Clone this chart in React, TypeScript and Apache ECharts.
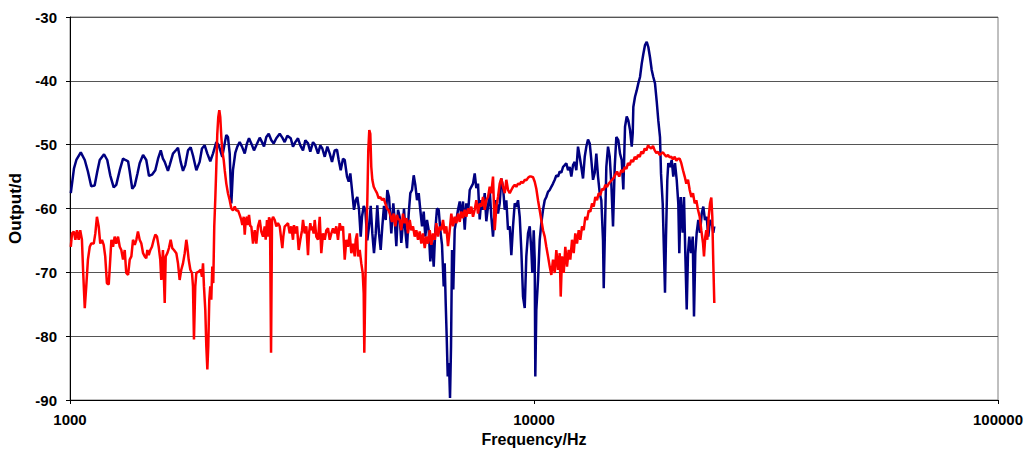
import React, { useEffect, useRef } from "react";
import * as echarts from "echarts";

const yTicks = [-90, -80, -70, -60, -50, -40, -30];
const xTicks = [1000, 10000, 100000];
const xTickLabels = ["1000", "10000", "100000"];

const blueFreq = [1004,1020,1032,1055,1076,1093,1111,1130,1145,1159,1184,1203,1221,1242,1258,1280,1301,1316,1334,1345,1362,1379,1397,1413,1437,1460,1480,1502,1527,1548,1569,1586,1600,1626,1640,1667,1695,1709,1732,1752,1772,1796,1820,1841,1872,1903,1925,1951,1977,2006,2033,2067,2092,2108,2129,2155,2172,2190,2209,2227,2245,2271,2294,2321,2348,2380,2407,2431,2459,2492,2521,2564,2593,2619,2649,2681,2716,2748,2784,2831,2868,2902,2940,2990,3024,3059,3100,3136,3178,3215,3258,3295,3340,3378,3424,3463,3498,3540,3586,3629,3670,3720,3762,3794,3832,3876,3909,3954,3987,4019,4053,4093,4128,4161,4197,4232,4259,4295,4329,4373,4410,4447,4483,4520,4559,4595,4634,4673,4711,4750,4791,4829,4870,4926,4975,5010,5050,5092,5135,5176,5220,5246,5280,5325,5370,5413,5459,5505,5549,5596,5643,5688,5737,5785,5831,5880,5930,5978,6028,6079,6128,6179,6232,6282,6335,6388,6420,6452,6484,6517,6559,6592,6625,6658,6700,6747,6801,6859,6917,6972,7031,7091,7147,7208,7269,7327,7389,7451,7511,7574,7638,7700,7765,7830,7893,7960,8027,8091,8160,8229,8295,8365,8435,8503,8575,8648,8717,8790,8865,8936,9011,9088,9160,9238,9316,9390,9470,9550,9626,9708,9790,9868,9917,9986,10036,10065,10116,10201,10288,10370,10458,10546,10631,10720,10811,10898,10990,11084,11172,11267,11362,11452,11549,11647,11740,11839,11939,12035,12136,12239,12337,12441,12546,12648,12754,12863,12966,13075,13186,13291,13403,13517,13625,13740,13856,13967,14085,14134,14205,14318,14439,14561,14678,14802,14927,15047,15195,15325,15455,15578,15710,15843,15969,16105,16242,16322,16371,16509,16649,16781,16924,17068,17203,17349,17496,17635,17783,17934,18076,18229,18384,18530,18688,18781,18940,19062,19157,19252,19378,19473,19638,19805,19962,20131,20302,20463,20565,20710,20917,21051,21187,21336,21474,21612,21796,21981,22122,22265,22421,22599,22791,22985,23167,23363,23561,23748,23951,24155,24346,24468];
const blueDb = [-57.6,-53.7,-52.4,-51.2,-52.4,-54.2,-56.5,-56.4,-54.2,-52.4,-51.5,-52.4,-54.8,-56.7,-56.3,-54.0,-52.2,-52.4,-52.6,-54.2,-56.9,-56.4,-54.6,-52.9,-51.6,-52.4,-54.9,-54.7,-54.0,-52.2,-50.9,-52.2,-52.7,-54.1,-53.2,-51.4,-50.8,-50.5,-52.7,-54.1,-53.2,-50.9,-50.4,-51.7,-54.0,-52.7,-50.6,-50.1,-51.4,-52.6,-51.4,-49.6,-50.1,-50.9,-51.9,-49.8,-48.5,-48.8,-51.4,-59.2,-54.0,-51.3,-50.3,-49.6,-50.3,-51.4,-49.8,-49.0,-49.8,-50.9,-50.1,-48.9,-49.6,-50.3,-48.8,-48.3,-49.3,-49.8,-49.0,-48.3,-48.9,-49.6,-48.6,-49.0,-50.3,-49.6,-49.0,-50.1,-50.9,-49.3,-49.8,-51.1,-49.6,-50.1,-51.4,-50.1,-50.6,-51.9,-50.3,-51.4,-52.7,-50.9,-50.8,-52.4,-54.0,-52.2,-52.4,-55.0,-55.8,-54.5,-57.1,-60.2,-58.7,-58.2,-60.2,-64.4,-61.3,-59.6,-60.2,-65.0,-62.8,-59.6,-63.9,-67.0,-63.9,-59.5,-63.9,-66.5,-62.8,-59.6,-61.8,-57.1,-58.2,-63.9,-59.2,-61.8,-65.9,-60.2,-61.3,-65.4,-62.3,-60.0,-63.4,-66.2,-60.8,-57.6,-57.1,-54.8,-56.3,-58.7,-57.6,-60.2,-62.8,-60.5,-64.4,-61.8,-63.4,-68.3,-64.9,-69.1,-63.4,-60.0,-60.2,-63.4,-65.7,-72.2,-68.6,-74.8,-80.1,-86.3,-84.2,-89.7,-81.6,-66.5,-72.7,-63.3,-61.8,-60.2,-58.9,-61.3,-58.9,-63.3,-59.2,-60.8,-57.1,-56.6,-56.1,-54.5,-56.8,-56.1,-61.7,-58.7,-60.2,-57.6,-62.0,-59.7,-57.1,-61.3,-64.4,-60.2,-58.7,-60.8,-59.2,-55.3,-56.6,-60.2,-58.7,-63.3,-62.8,-67.3,-62.8,-59.2,-59.7,-58.7,-61.3,-66.5,-73.8,-75.6,-67.5,-63.9,-62.8,-66.5,-70.1,-63.4,-68.0,-86.3,-75.9,-71.2,-64.9,-62.3,-60.2,-58.7,-58.2,-57.4,-57.1,-56.6,-56.1,-55.5,-54.8,-55.0,-54.2,-54.4,-53.5,-53.2,-52.9,-54.0,-53.5,-55.0,-53.2,-52.7,-54.0,-50.3,-51.9,-53.5,-55.3,-51.9,-50.3,-49.2,-49.8,-52.4,-55.5,-54.4,-51.4,-55.0,-57.6,-58.7,-65.0,-72.5,-65.0,-53.5,-50.3,-51.9,-56.1,-62.8,-53.5,-48.8,-49.3,-51.4,-52.4,-57.0,-47.2,-45.6,-46.2,-47.7,-50.3,-48.2,-44.1,-42.5,-41.5,-40.4,-39.4,-37.3,-35.8,-34.4,-33.9,-34.7,-36.3,-38.3,-39.4,-40.4,-43.2,-46.2,-48.8,-54.5,-59.2,-67.0,-73.2,-64.4,-55.5,-52.9,-53.5,-52.4,-55.0,-52.9,-55.5,-59.2,-67.0,-58.2,-63.8,-58.2,-67.0,-75.8,-67.0,-64.4,-67.0,-64.4,-76.9,-67.0,-63.8,-61.8,-63.8,-60.8,-59.7,-61.8,-61.3,-64.4,-61.8,-62.3,-63.8,-62.8];

const redFreq = [1004,1010,1019,1027,1035,1044,1052,1061,1067,1076,1084,1093,1103,1111,1125,1134,1143,1153,1162,1172,1182,1191,1201,1212,1221,1228,1238,1248,1258,1269,1280,1290,1301,1312,1322,1334,1345,1356,1367,1379,1390,1401,1413,1425,1437,1449,1460,1468,1478,1490,1502,1515,1527,1540,1553,1565,1573,1586,1600,1608,1621,1634,1648,1661,1675,1695,1709,1723,1737,1752,1767,1781,1790,1802,1817,1832,1841,1850,1862,1872,1894,1913,1925,1935,1944,1957,1967,1977,1986,1996,2006,2016,2026,2036,2046,2056,2067,2077,2087,2098,2108,2119,2129,2144,2155,2172,2190,2209,2227,2245,2265,2283,2302,2321,2340,2352,2368,2380,2392,2407,2419,2431,2447,2459,2480,2501,2521,2542,2564,2584,2606,2628,2641,2658,2671,2685,2698,2712,2725,2739,2762,2784,2807,2831,2854,2868,2882,2902,2926,2950,2975,2999,3024,3039,3059,3085,3111,3136,3163,3178,3205,3231,3258,3274,3295,3312,3328,3351,3368,3395,3424,3453,3480,3510,3540,3568,3598,3629,3658,3688,3720,3749,3781,3813,3844,3876,3909,3940,3973,4007,4039,4073,4108,4128,4155,4176,4211,4244,4274,4295,4308,4329,4351,4373,4394,4416,4438,4460,4483,4514,4550,4588,4627,4664,4704,4743,4781,4822,4862,4901,4943,4985,5024,5067,5092,5135,5176,5220,5264,5307,5351,5397,5440,5486,5532,5577,5624,5671,5717,5765,5814,5860,5910,5960,6008,6058,6110,6159,6210,6263,6313,6367,6420,6472,6526,6582,6634,6690,6747,6801,6859,6917,6972,7031,7091,7147,7208,7269,7327,7389,7451,7511,7574,7638,7700,7765,7830,7893,7960,8027,8091,8160,8229,8295,8365,8435,8503,8575,8648,8717,8790,8865,8936,9011,9088,9160,9238,9316,9390,9470,9550,9626,9708,9790,9868,9952,10036,10116,10201,10288,10370,10458,10546,10631,10720,10811,10898,10990,11084,11172,11267,11362,11418,11492,11589,11681,11780,11880,11975,12077,12178,12275,12379,12484,12585,12692,12798,12900,13010,13120,13225,13337,13449,13556,13671,13787,13898,14016,14134,14246,14367,14489,14605,14729,14853,14971,15098,15260,15425,15560,15687,15820,15946,16080,16210,16350,16485,16620,16757,16900,17034,17180,17323,17470,17609,17750,17899,18050,18203,18350,18503,18650,18809,18970,19129,19290,19445,19600,19766,19930,20101,20270,20433,20606,20772,20948,21125,21294,21474,21655,21829,22013,22200,22378,22566,22757,22939,23133,23247,23397,23516,23632,23796,23951,24107,24226,24346,24468];
const redDb = [-66.0,-63.9,-63.6,-64.9,-63.4,-64.9,-63.4,-64.9,-69.6,-75.6,-72.2,-68.0,-66.0,-65.5,-65.5,-63.9,-61.3,-62.8,-65.5,-64.9,-65.7,-67.5,-71.7,-71.9,-68.0,-64.9,-66.0,-64.4,-65.5,-64.4,-66.0,-66.5,-68.0,-66.5,-70.1,-70.4,-68.0,-67.5,-64.9,-65.7,-64.9,-63.6,-64.9,-65.5,-67.0,-67.5,-67.8,-66.5,-67.3,-66.5,-66.0,-64.9,-64.1,-64.4,-66.0,-68.0,-71.2,-66.5,-74.8,-67.5,-67.0,-66.2,-64.9,-66.2,-66.5,-67.0,-68.6,-71.2,-69.6,-68.6,-67.0,-64.9,-66.0,-68.0,-69.6,-70.1,-72.2,-80.5,-72.2,-70.1,-69.9,-69.6,-70.7,-68.6,-72.2,-75.9,-81.6,-85.2,-81.6,-74.3,-72.2,-74.3,-69.1,-71.7,-62.8,-58.7,-53.5,-48.3,-45.7,-44.6,-45.7,-48.8,-50.9,-52.4,-54.0,-56.1,-57.6,-58.7,-60.0,-60.3,-59.7,-60.3,-60.3,-61.0,-61.8,-62.6,-61.3,-64.1,-61.8,-61.3,-62.6,-61.0,-62.8,-62.8,-65.5,-63.4,-65.5,-62.8,-61.8,-63.6,-64.4,-62.8,-64.9,-61.8,-64.4,-61.4,-61.8,-82.6,-61.8,-61.3,-61.8,-62.8,-62.3,-62.8,-64.9,-66.2,-64.4,-62.8,-62.6,-62.3,-63.9,-62.8,-64.9,-62.6,-63.9,-62.8,-66.5,-64.9,-63.4,-61.8,-63.9,-62.8,-67.3,-63.9,-62.3,-63.4,-62.8,-63.9,-61.8,-64.4,-64.9,-61.3,-67.0,-63.9,-64.9,-63.4,-63.1,-64.9,-63.9,-63.1,-63.9,-62.8,-64.9,-62.3,-63.4,-62.8,-68.0,-64.9,-66.0,-63.9,-67.0,-65.5,-67.5,-64.9,-63.9,-67.5,-66.5,-68.6,-70.1,-73.3,-82.6,-72.2,-63.9,-58.7,-50.9,-47.7,-48.3,-53.5,-55.5,-56.6,-57.1,-57.6,-58.4,-58.2,-58.7,-58.4,-59.2,-60.0,-60.3,-61.0,-62.1,-60.8,-62.8,-61.0,-61.6,-61.8,-63.4,-60.8,-62.3,-61.5,-63.9,-61.8,-63.4,-62.8,-64.4,-63.4,-64.9,-63.6,-65.5,-63.9,-66.2,-64.4,-65.5,-63.4,-65.7,-63.9,-64.9,-62.3,-64.4,-62.8,-63.4,-61.8,-63.9,-62.8,-65.9,-63.4,-60.8,-62.8,-61.3,-62.3,-60.8,-62.1,-60.5,-61.5,-60.2,-61.3,-60.0,-60.8,-59.7,-61.3,-60.2,-58.7,-60.8,-59.2,-59.7,-58.2,-60.2,-58.7,-58.2,-56.6,-57.6,-55.0,-63.4,-59.7,-58.2,-56.1,-55.3,-56.6,-57.6,-55.5,-57.1,-57.6,-57.1,-56.6,-56.3,-56.6,-56.1,-56.2,-55.8,-56.0,-55.5,-55.6,-55.2,-55.0,-55.0,-55.1,-55.8,-56.9,-58.7,-60.3,-61.8,-63.4,-64.4,-66.0,-67.5,-69.1,-70.4,-68.0,-70.1,-66.5,-69.6,-67.0,-73.8,-67.5,-70.1,-66.0,-69.1,-66.5,-68.0,-64.9,-67.0,-63.9,-65.5,-63.4,-64.9,-62.8,-63.4,-61.3,-61.8,-60.3,-60.5,-59.2,-59.7,-58.2,-58.7,-57.6,-57.9,-56.9,-57.1,-56.3,-56.6,-56.1,-55.8,-55.5,-55.2,-54.7,-54.2,-55.0,-54.0,-54.3,-53.5,-53.8,-52.9,-53.2,-52.4,-52.7,-51.9,-52.3,-51.6,-51.9,-51.1,-51.4,-50.6,-50.9,-50.1,-50.4,-50.6,-50.2,-50.9,-51.3,-51.1,-51.6,-51.4,-51.2,-51.6,-51.9,-51.6,-52.0,-51.9,-52.3,-51.9,-52.5,-52.2,-52.2,-52.9,-54.0,-55.0,-56.1,-55.5,-57.1,-58.2,-57.6,-59.2,-58.7,-60.2,-61.3,-63.4,-65.4,-67.5,-64.4,-63.4,-64.9,-61.3,-59.2,-58.3,-61.3,-68.6,-74.8];

const FONT = "'Liberation Sans', Arial, sans-serif";

function zip(xs: number[], ys: number[]) {
  return xs.map((x, i) => [x, ys[i]]);
}

export default function App() {
  const ref = useRef<HTMLDivElement>(null);
  useEffect(() => {
    if (!ref.current) return;
    const chart = echarts.init(ref.current, null, { renderer: "svg" });
    chart.setOption({
      animation: false,
      backgroundColor: "#ffffff",
      grid: {
        left: 70,
        right: 28,
        top: 17,
        bottom: 50,
        show: true,
        borderColor: "#808080",
        borderWidth: 1,
        containLabel: false,
        outerBoundsMode: "none",
      },
      xAxis: {
        type: "log",
        logBase: 10,
        min: xTicks[0],
        max: xTicks[xTicks.length - 1],
        name: "Frequency/Hz",
        nameLocation: "middle",
        nameGap: 30,
        nameTextStyle: { fontFamily: FONT, fontWeight: "bold", fontSize: 16, color: "#000" },
        axisLine: { show: true, onZero: false, lineStyle: { color: "#000", width: 1 } },
        axisTick: { show: true, length: 4, lineStyle: { color: "#000" } },
        axisLabel: {
          fontFamily: FONT,
          fontWeight: "bold",
          fontSize: 15,
          color: "#000",
          margin: 12,
          formatter: (v: number) => {
            const i = xTicks.findIndex((t) => Math.abs(t - v) / t < 1e-6);
            return i >= 0 ? xTickLabels[i] : "";
          },
        },
        splitLine: { show: false },
        minorTick: { show: false },
      },
      yAxis: {
        type: "value",
        min: yTicks[0],
        max: yTicks[yTicks.length - 1],
        interval: 10,
        name: "Output/d",
        nameLocation: "middle",
        nameGap: 45,
        nameTextStyle: { fontFamily: FONT, fontWeight: "bold", fontSize: 17, color: "#000" },
        axisLine: { show: true, onZero: false, lineStyle: { color: "#000", width: 1 } },
        axisTick: { show: true, length: 4, lineStyle: { color: "#000" } },
        axisLabel: { fontFamily: FONT, fontWeight: "bold", fontSize: 15, color: "#000", margin: 13 },
        splitLine: { show: true, lineStyle: { color: "#555555", width: 1.2 } },
      },
      series: [
        {
          type: "line",
          data: zip(blueFreq, blueDb),
          symbol: "none",
          showSymbol: false,
          lineStyle: { color: "#000080", width: 2.5 },
          z: 2,
        },
        {
          type: "line",
          data: zip(redFreq, redDb),
          symbol: "none",
          showSymbol: false,
          lineStyle: { color: "#ff0000", width: 2.5 },
          z: 3,
        },
      ],
    });
    return () => chart.dispose();
  }, []);
  return (
    <div
      ref={ref}
      style={{ position: "absolute", left: 0, top: 0, width: 1026, height: 450, background: "#fff" }}
    />
  );
}
